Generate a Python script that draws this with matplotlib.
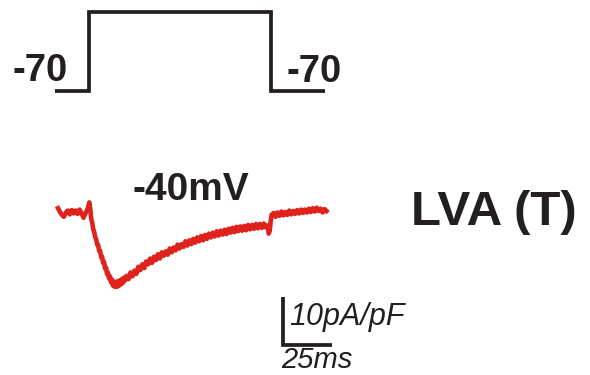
import matplotlib
matplotlib.use("Agg")
import matplotlib.pyplot as plt

# ---- data ----
# voltage protocol (ms, mV)
protocol_t = [-1.5, 15.6, 15.6, 108.7, 108.7, 136.2]
protocol_v = [-70, -70, -40, -40, -70, -70]

# current trace (ms, pA/pF)
trace_t = [0, 1, 2, 3, 4, 5, 6, 7, 8, 9, 10, 11, 12, 13, 14, 15, 16,
           16.5, 17, 17.5, 18, 18.5, 19, 19.5, 20, 20.5, 21, 21.5, 22, 22.5,
           23, 23.5, 24, 24.5, 25, 25.5, 26, 26.5, 27, 27.5, 28, 28.5, 29,
           29.5, 30, 30.5, 31, 31.5, 32, 32.5, 33, 33.5, 34,
           35, 36, 37, 38, 39, 40, 41, 42, 43, 44, 45, 46, 47, 48, 49, 50,
           51, 52, 53, 54, 55, 56, 57, 58, 59, 60, 61, 62, 63, 64, 65, 66,
           67, 68, 69, 70, 71, 72, 73, 74, 75, 76, 77, 78, 79, 80, 81, 82,
           83, 84, 85, 86, 87, 88, 89, 90, 91, 92, 93, 94, 95, 96, 97, 98,
           99, 100, 101, 102, 103, 104, 105, 106, 107, 107.5, 108, 108.5,
           109, 110, 111, 112, 113, 114, 115, 116, 117, 118, 119, 120, 121,
           122, 123, 124, 125, 126, 127, 128, 129, 130, 131, 132, 133, 134,
           135, 136, 137]
trace_i = [0.8, 0.0, -0.6, -1.0, -0.1, 0.3, -0.5, 0.4, -0.3, 0.3, -0.4, 0.5,
           -0.2, -1.2, -0.3, 0.5, 2.0,
           0.5, -1.5, -2.3, -3.6, -4.2, -5.3, -5.7, -6.8, -6.9, -8.1, -8.1,
           -9.4, -9.3, -10.6, -10.4, -11.8, -11.6, -12.9, -12.6, -13.8, -13.4,
           -14.6, -14.1, -15.3, -14.5, -15.6, -14.6, -15.6, -14.4, -15.4,
           -14.3, -15.1, -14.0, -14.8, -13.7, -14.4,
           -13.3, -14.0, -12.6, -13.4, -12.2, -12.9, -11.4, -12.1, -10.9,
           -11.7, -10.3, -10.9, -9.7, -10.6, -9.3, -10.0, -8.8, -9.7, -8.4,
           -9.1, -8.2, -8.9, -7.6, -8.4, -7.4, -8.0, -6.8, -7.6, -6.7, -7.3,
           -6.1, -7.0, -5.9, -6.7, -5.6, -6.4, -5.3, -6.1, -5.0, -5.9, -4.8,
           -5.6, -4.5, -5.3, -4.3, -5.1, -4.0, -4.9, -3.9, -4.7, -3.7, -4.6,
           -3.5, -4.3, -3.3, -4.2, -3.1, -4.0, -3.0, -3.9, -2.9, -3.8, -2.7,
           -3.6, -2.7, -3.5, -2.5, -3.4, -2.5, -3.3, -2.4, -3.2, -2.8, -4.5,
           -4.0, -2.0,
           -0.6, -0.2, -1.0, -0.1, -0.8, 0.1, -0.7, 0.0, -0.6, 0.3, -0.5,
           0.2, -0.4, 0.4, -0.3, 0.5, -0.2, 0.5, -0.1, 0.7, 0.0, 0.8, 0.1,
           0.9, 0.2, 0.7, -0.1, 0.6, 0.2]

# scale bar sizes
bar_ms = 25
bar_pApF = 10

# ---- figure ----
W, H = 590, 375
fig = plt.figure(figsize=(W / 100, H / 100), dpi=100)

ax = fig.add_axes([0, 0, 1, 1])
ax.set_xlim(-29.59, 271.43)
ax.set_ylim(-33.96, 44.17)
ax.axis("off")

axv = fig.add_axes([0, 0, 1, 1], sharex=ax)
axv.set_ylim(-177.86, -35.44)
axv.axis("off")
axv.patch.set_alpha(0)

ink = "#231f20"
red = "#e0221c"

axv.plot(protocol_t, protocol_v, color=ink, lw=2.7, solid_joinstyle="miter",
         solid_capstyle="butt")

ax.plot(trace_t, trace_i, color=red, lw=3.3, solid_joinstyle="round")

# scale bar
bx, by = 114.8, -27.7
ax.plot([bx, bx, bx + bar_ms], [by + bar_pApF, by, by], color=ink, lw=2.7,
        solid_joinstyle="miter", solid_capstyle="butt")

font = "Liberation Sans"


def ftext(x, y, s, **kw):
    fig.text(x / W, 1 - y / H, s, ha="left", va="baseline", color=ink,
             family=font, **kw)


ftext(12, 81, "-70", fontsize=27.5, fontweight="bold")
ftext(287, 82, "-70", fontsize=27.5, fontweight="bold")
ftext(132, 200, "-40mV", fontsize=28, fontweight="bold")
ftext(411, 225, "LVA (T)", fontsize=35.5, fontweight="bold")
ftext(289, 325, "10pA/pF", fontsize=22, fontstyle="italic")
ftext(281, 368.5, "25ms", fontsize=21, fontstyle="italic")

fig.savefig("out.png", dpi=100)
